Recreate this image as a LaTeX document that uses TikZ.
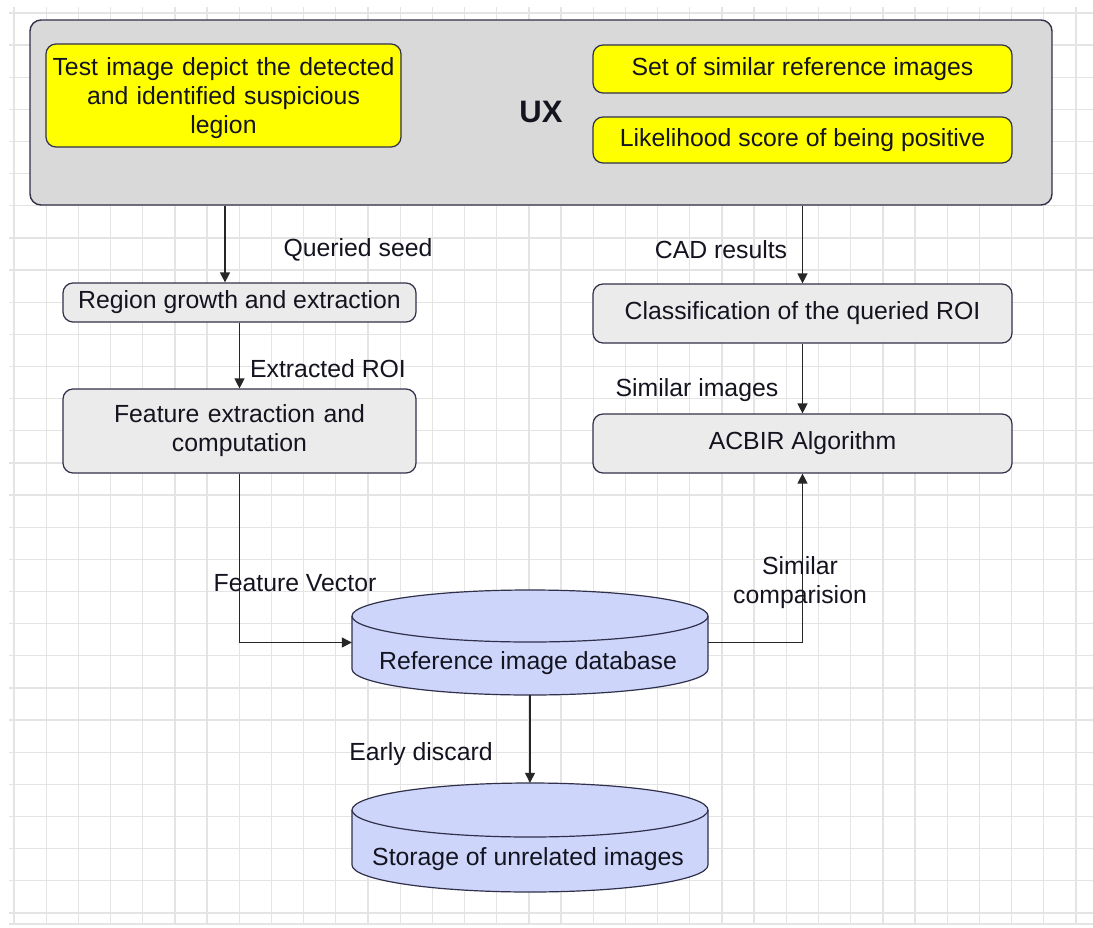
\documentclass[tikz,border=0pt]{standalone}
\usepackage{fontspec}
\setmainfont{Liberation Sans}
\usetikzlibrary{arrows.meta,calc}
\definecolor{gridline}{HTML}{E4E4E4}
\definecolor{edge}{HTML}{30304A}
\definecolor{panel}{HTML}{D9D9D9}
\definecolor{stepfill}{HTML}{EBEBEB}
\definecolor{hilite}{HTML}{FFFF00}
\definecolor{dbfill}{HTML}{CDD5FB}
\definecolor{ink}{HTML}{141420}

\begin{document}
\begin{tikzpicture}[x=1pt,y=1pt,
  every node/.style={font=\fontsize{24.8}{29}\selectfont, text=ink},
  panelbox/.style={draw=edge, line width=1.4pt, fill=panel, rounded corners=11pt, inner sep=0pt},
  notebox/.style={draw=edge, line width=1.2pt, fill=hilite, rounded corners=10pt, inner sep=0pt, align=center},
  stepbox/.style={draw=edge, line width=1.2pt, fill=stepfill, rounded corners=10pt, inner sep=0pt, align=center},
  drum/.style={inner sep=0pt, minimum width=356pt},
  lbl/.style={inner sep=0pt, align=center},
  flow/.style={draw=black!85, line width=1.3pt, -{Triangle[length=10pt,width=10pt]}}]

\useasboundingbox (0,0) rectangle (1093,-927);
\fill[white] (0,0) rectangle (1093,-927);

% background grid
\foreach \i in {0,...,33}
  \draw[gridline, line width=1.3pt] ({14+32.18*\i},-7) -- ({14+32.18*\i},-925);
\foreach \j in {0,...,28}
  \draw[gridline, line width=1.3pt] (9,{-13-32.14*\j}) -- (1093,{-13-32.14*\j});
\draw[gridline, line width=1.3pt] (9,-924) -- (1093,-924);

% user interface panel
\node[panelbox, minimum width=1022pt, minimum height=185pt] (ux) at (541,-112.5) {};
\node[lbl, font=\fontsize{31}{31}\selectfont\bfseries] (uxlabel) at (541,-112) {UX};
\node[notebox, minimum width=355pt, minimum height=103pt] (lesion) at (223.5,-95.5) {};
\node[lbl, text width=352pt] (lesiontext) at (223.5,-98.5)
  {Test image depict the detected\\and identified suspicious\\legion};
\node[notebox, minimum width=419pt, minimum height=48pt] (similarset) at (802.5,-69)
  {Set of similar reference images};
\node[notebox, minimum width=419pt, minimum height=46pt] (likelihood) at (802.5,-140)
  {Likelihood score of being positive};

% processing steps
\node[stepbox, minimum width=353pt, minimum height=39pt] (region) at (239.5,-302.5)
  {Region growth and extraction};
\node[stepbox, minimum width=353pt, minimum height=84pt, text width=345pt] (feature) at (239.5,-431)
  {Feature extraction and\\computation};
\node[stepbox, minimum width=419pt, minimum height=59pt] (classify) at (802.5,-313.5)
  {Classification of the queried ROI};
\node[stepbox, minimum width=419pt, minimum height=59pt] (acbir) at (802.5,-443.5)
  {ACBIR Algorithm};

% reference image database
\fill[dbfill] (352,-616) -- (352,-669)
  arc[start angle=180, end angle=360, x radius=178pt, y radius=26pt] -- (708,-616)
  arc[start angle=0, end angle=180, x radius=178pt, y radius=26pt] -- cycle;
\draw[edge, line width=1.2pt] (352,-616) -- (352,-669)
  arc[start angle=180, end angle=360, x radius=178pt, y radius=26pt] -- (708,-616);
\draw[edge, line width=1.2pt] (530,-616) ellipse [x radius=178pt, y radius=26pt];
\node[drum, minimum height=105pt] (refdb) at (530,-642.5) {};
\node[lbl] (refdbtext) at (528,-663) {Reference image database};

% storage of unrelated images
\fill[dbfill] (352,-810) -- (352,-865)
  arc[start angle=180, end angle=360, x radius=178pt, y radius=27pt] -- (708,-810)
  arc[start angle=0, end angle=180, x radius=178pt, y radius=27pt] -- cycle;
\draw[edge, line width=1.2pt] (352,-810) -- (352,-865)
  arc[start angle=180, end angle=360, x radius=178pt, y radius=27pt] -- (708,-810);
\draw[edge, line width=1.2pt] (530,-810) ellipse [x radius=178pt, y radius=27pt];
\node[drum, minimum height=109pt] (store) at (530,-837.5) {};
\node[lbl] (storetext) at (528,-859) {Storage of unrelated images};

% connectors
\coordinate (seedx) at (225,0);
\draw[flow] (ux.south -| seedx) -- (region.north -| seedx);
\draw[flow] (ux.south -| classify.north) -- (classify.north);
\draw[flow] (region.south) -- (feature.north);
\draw[flow] (classify.south) -- (acbir.north);
\draw[flow] (feature.south) |- (refdb.west);
\draw[flow] (refdb.east) -| (acbir.south);
\draw[flow] (refdb.south) -- (store.north);

% connector labels
\node[lbl] (seedlbl) at (358,-250) {Queried seed};
\node[lbl] (cadlbl) at (721,-250) {CAD results};
\node[lbl] (roilbl) at (328,-369) {Extracted ROI};
\node[lbl] (simlbl) at (697,-390) {Similar images};
\node[lbl] (veclbl) at (295,-583) {Feature Vector};
\node[lbl] (cmplbl) at (800,-583) {Similar\\comparision};
\node[lbl] (discardlbl) at (421,-754) {Early discard};
\end{tikzpicture}
\end{document}
